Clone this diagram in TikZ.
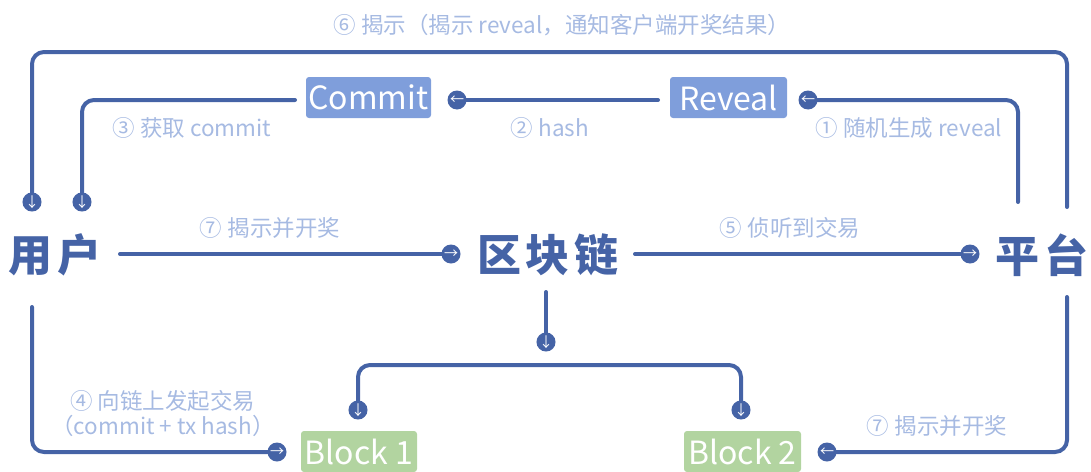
\documentclass[tikz,border=0pt]{standalone}
\usepackage{fontspec}
\setmainfont{Noto Sans CJK SC}
\usetikzlibrary{calc,backgrounds}
\definecolor{lineblue}{RGB}{69,99,166}
\definecolor{labelblue}{RGB}{166,186,226}
\definecolor{boxblue}{RGB}{127,158,219}
\definecolor{boxgreen}{RGB}{178,212,160}
\tikzset{
  conn/.style={draw=lineblue, line width=4pt, line cap=round, rounded corners=12pt},
  tipc/.style={circle, fill=lineblue, minimum size=19pt, inner sep=0pt, text=white, font=\fontsize{14}{14}\selectfont},
  lbl/.style={text=labelblue, font=\fontsize{22.5}{25}\selectfont, inner sep=0pt, align=center},
  actor/.style={text=lineblue, font=\fontsize{44}{44}\selectfont\bfseries, inner sep=0pt},
  tagbox/.style={rounded corners=3pt, text=white, minimum height=41pt, inner sep=0pt, font=\fontsize{32}{32}\selectfont},
  bluebox/.style={tagbox, fill=boxblue},
  greenbox/.style={tagbox, fill=boxgreen}
}
\begin{document}
\begin{tikzpicture}[x=1pt,y=-1pt]
\useasboundingbox (0,0) rectangle (1091,471);
\clip (0,0) rectangle (1091,471);

% main nodes
\node[actor] (user) at (55,255) {用\kern5pt户};
\node[actor] (chain) at (548,255) {区\kern5pt块\kern5pt链};
\node[actor] (plat) at (1042,255) {平\kern5pt台};
\node[bluebox, minimum width=125pt] (commit) at (368.5,97.5) {Commit};
\node[bluebox, minimum width=117pt] (reveal) at (728.5,97.5) {Reveal};
\node[greenbox, minimum width=116pt] (block1) at (359,451.5) {Block 1};
\node[greenbox, minimum width=117pt] (block2) at (742.5,451.5) {Block 2};

% tips
\node[tipc] (t6) at (32,202) {↓};
\node[tipc] (t3) at (82,202) {↓};
\node[tipc] (t2) at (457,100) {←};
\node[tipc] (t1) at (808,100) {←};
\node[tipc] (t7a) at (451,254) {→};
\node[tipc] (t5) at (970,254) {→};
\node[tipc] (tc) at (546,342) {↓};
\node[tipc] (tb1) at (358,410) {↓};
\node[tipc] (tb2) at (741,410) {↓};
\node[tipc] (t4) at (277,452) {→};
\node[tipc] (t7b) at (827,452) {←};

% free ends
\coordinate (p6) at (1067,207);
\coordinate (p1) at (1018,202);
\coordinate (p7) at (1067,297);
\coordinate (u4) at (32,307);
\coordinate (c3) at (295,100);
\coordinate (r2) at (658,100);
\coordinate (u7) at (120,254);
\coordinate (ch5) at (635,254);
\coordinate (chd) at (546,292);

% connectors beneath tips
\begin{pgfonlayer}{background}
\draw[conn] (p6) -- (1067,52) -- (32,52) -- (t6.center);
\draw[conn] (c3) -- (82,100) -- (t3.center);
\draw[conn] (r2) -- (t2.center);
\draw[conn] (p1) -- (1018,100) -- (t1.center);
\draw[conn] (u7) -- (t7a.center);
\draw[conn] (ch5) -- (t5.center);
\draw[conn] (chd) -- (tc.center);
\draw[conn] (tb1.center) -- (358,365) -- (741,365) -- (tb2.center);
\draw[conn] (u4) -- (32,452) -- (t4.center);
\draw[conn] (p7) -- (1067,452) -- (t7b.center);
\end{pgfonlayer}

% labels
\node[lbl] (l6) at (562,25) {⑥ 揭示（揭示 reveal，通知客户端开奖结果）};
\node[lbl] (l3) at (192,128) {③ 获取 commit};
\node[lbl] (l2) at (550,128) {② hash};
\node[lbl] (l1) at (909,128) {① 随机生成 reveal};
\node[lbl] (l7a) at (270,228) {⑦ 揭示并开奖};
\node[lbl] (l5) at (790,228) {⑤ 侦听到交易};
\node[lbl] (l4) at (163,414) {④ 向链上发起交易\\（commit + tx hash）};
\node[lbl] (l7b) at (937,426) {⑦ 揭示并开奖};
\end{tikzpicture}
\end{document}
